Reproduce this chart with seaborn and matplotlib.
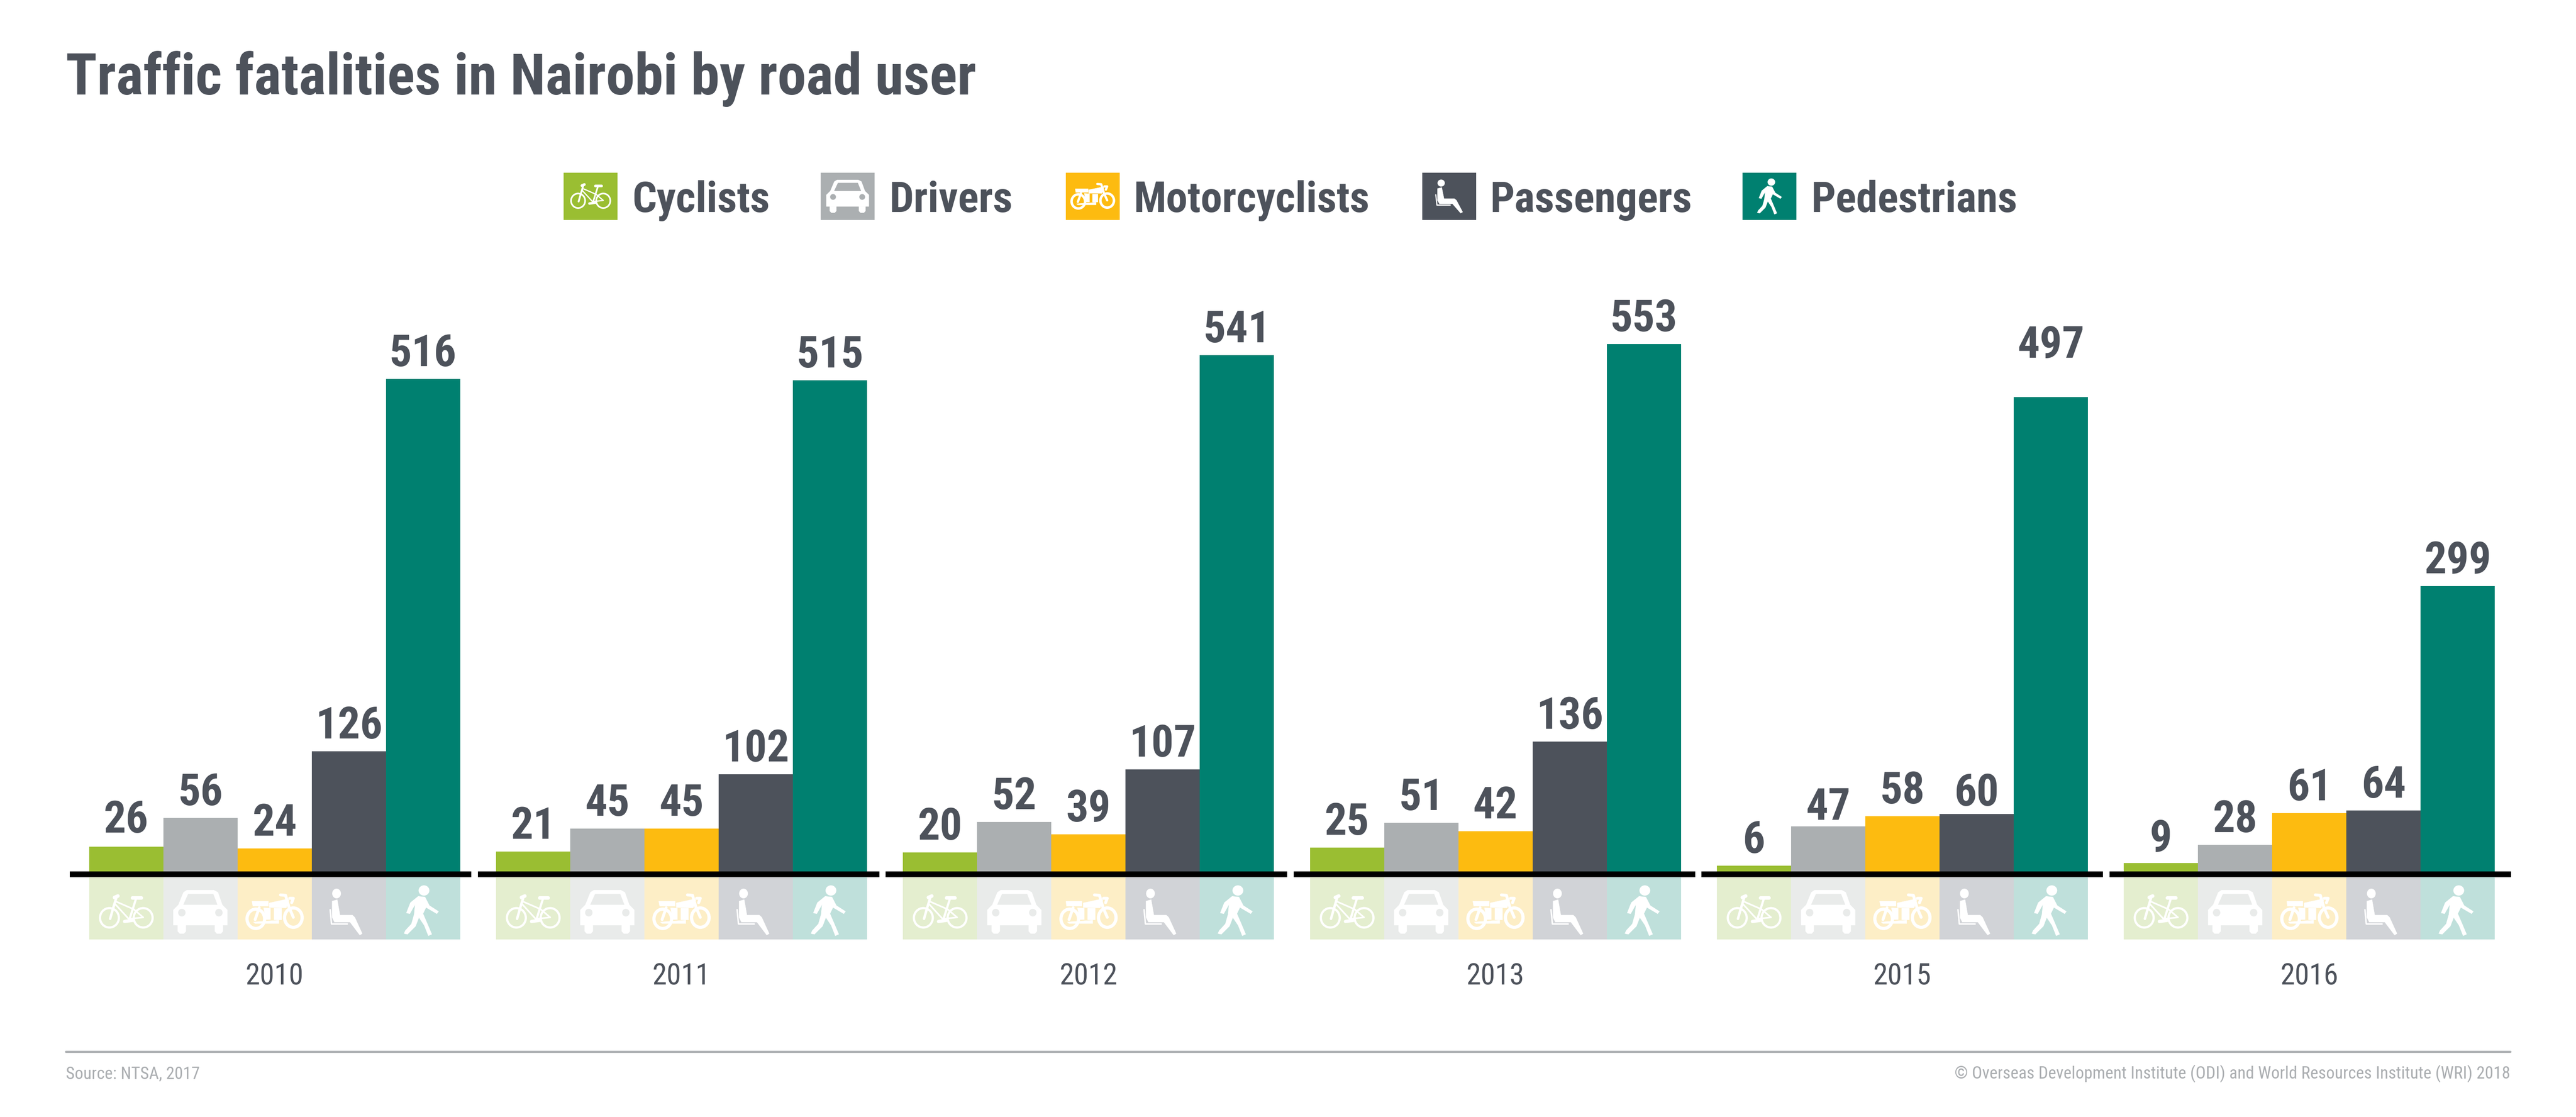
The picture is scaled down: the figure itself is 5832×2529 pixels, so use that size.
import matplotlib
matplotlib.use("Agg")
import matplotlib.pyplot as plt
import matplotlib.patches as mpatches
from matplotlib.lines import Line2D
from matplotlib.transforms import Affine2D
import pandas as pd
import seaborn as sns

# ---------- data ----------
years = ["2010", "2011", "2012", "2013", "2015", "2016"]
road_users = ["Cyclists", "Drivers", "Motorcyclists", "Passengers", "Pedestrians"]
cyclists = [26, 21, 20, 25, 6, 9]
drivers = [56, 45, 52, 51, 47, 28]
motorcyclists = [24, 45, 39, 42, 58, 61]
passengers = [126, 102, 107, 136, 60, 64]
pedestrians = [516, 515, 541, 553, 497, 299]

title = "Traffic fatalities in Nairobi by road user"
source_text = "Source: NTSA, 2017"
credit_text = "© Overseas Development Institute (ODI) and World Resources Institute (WRI) 2018"

# ---------- style ----------
W, H = 5833, 2529
DPI = 300
INK = "#4D525B"
FOOT = "#ABAEB1"
colors = ["#9ABE32", "#ABAFB1", "#FDBB10", "#4D525B", "#008070"]
tints = ["#E4EECF", "#E9EBEA", "#FDEEC6", "#D1D3D7", "#BFE0DB"]
sns.set_theme(style="white")
plt.rcParams["font.family"] = ["Roboto Condensed", "Liberation Sans", "DejaVu Sans"]

fig = plt.figure(figsize=(W / DPI, H / DPI), dpi=DPI, facecolor="white")
# pixel coordinates measured from the top-left corner of the picture
PX = Affine2D().scale(1 / W, -1 / H).translate(0, 1) + fig.transFigure

BASE_Y = 1973
UNIT = 2.16           # picture pixels per fatality
TOP_Y = 500
ax_left, ax_right = 161, 5689
ax = fig.add_axes([ax_left / W, 1 - BASE_Y / H, (ax_right - ax_left) / W, (BASE_Y - TOP_Y) / H])

df = pd.DataFrame({"Year": years, "Cyclists": cyclists, "Drivers": drivers,
                   "Motorcyclists": motorcyclists, "Passengers": passengers,
                   "Pedestrians": pedestrians}).melt(id_vars="Year", var_name="Road user", value_name="Fatalities")
sns.barplot(data=df, x="Year", y="Fatalities", hue="Road user", hue_order=road_users,
            order=years, palette=colors, width=0.912, gap=0, legend=False, ax=ax,
            saturation=1, linewidth=0, errorbar=None)
ax.set_xlim(-0.5, 5.5)
ax.set_ylim(0, (BASE_Y - TOP_Y) / UNIT)
ax.set_xlabel("")
ax.set_ylabel("")
ax.set_yticks([])
ax.tick_params(axis="x", length=0, pad=206 * 72 / DPI, labelsize=16, labelcolor=INK)
for s in ax.spines.values():
    s.set_visible(False)
ax.patch.set_alpha(0)


# ---------- icons: outlines traced in a box given by (x0, x1, y0, y1) ----------
def norm(pts, box):
    x0, x1, y0, y1 = box
    return [((x - x0) / (x1 - x0), (y - y0) / (y1 - y0)) for x, y in pts]


def draw_icon(kind, x0, y0, w, h, bg, fg="white"):
    tr = Affine2D().scale(w, h).translate(x0, y0) + PX
    lw = w / 126 * 1.5

    def poly(pts, box, color=fg):
        fig.add_artist(mpatches.Polygon(norm(pts, box), closed=True, fc=color, ec=color, lw=0.2,
                                        transform=tr))

    def ell(cx, cy, rx, ry, box, color=fg, ring=None):
        a, b, c, d = box
        fig.add_artist(mpatches.Ellipse(((cx - a) / (b - a), (cy - c) / (d - c)),
                                        2 * rx / (b - a), 2 * ry / (d - c),
                                        fc=color if ring is None else "none",
                                        ec=fg if ring is not None else "none",
                                        lw=ring or 0, transform=tr))

    def line(pts, box, width=lw, color=fg):
        xs, ys = zip(*norm(pts, box))
        fig.add_artist(Line2D(xs, ys, color=color, lw=width, transform=tr,
                              solid_capstyle="round", solid_joinstyle="round"))

    if kind == "Cyclists":
        b = (160, 325, 530, 755)
        ell(193, 683, 28, 66, b, ring=lw * 0.8)
        ell(293, 683, 28, 66, b, ring=lw * 0.8)
        line([(215, 535), (205, 610), (195, 690)], b, lw * 0.9)
        line([(215, 575), (265, 625)], b, lw * 0.6)
        line([(210, 590), (250, 690)], b, lw * 0.6)
        line([(272, 552), (253, 690)], b, lw * 0.8)
        line([(253, 690), (293, 680)], b, lw * 0.6)
        line([(265, 625), (293, 680)], b, lw * 0.6)
        line([(262, 548), (287, 548)], b, lw * 1.3)
        line([(208, 545), (218, 535)], b, lw * 1.3)
        line([(238, 708), (262, 700)], b, lw * 1.2)
    elif kind == "Drivers":
        b = (380, 540, 495, 790)
        poly([(380, 733), (380, 630), (395, 595), (410, 510), (420, 495), (500, 495), (512, 510),
              (525, 595), (540, 630), (540, 733)], b)
        poly([(424, 522), (498, 522), (510, 593), (410, 593)], b, color=bg)
        ell(405, 648, 11, 26, b, color=bg)
        ell(515, 648, 11, 26, b, color=bg)
        for xl, xr in [(393, 417), (503, 527)]:
            poly([(xl, 733), (xr, 733), (xr, 775), (xr - 6, 790), (xl + 6, 790), (xl, 775)], b)
    elif kind == "Motorcyclists":
        b = (590, 765, 525, 760)
        ell(622, 690, 26, 66, b, ring=lw * 1.1)
        ell(733, 682, 26, 66, b, ring=lw * 1.1)
        poly([(610, 570), (658, 570), (658, 603), (612, 603)], b)
        poly([(662, 582), (712, 557), (720, 560), (712, 615), (662, 613)], b)
        poly([(615, 712), (690, 700), (690, 722), (620, 722)], b)
        poly([(645, 615), (665, 618), (665, 695), (652, 695)], b)
        poly([(675, 618), (697, 618), (697, 695), (675, 695)], b)
        line([(695, 527), (710, 530), (720, 610), (733, 680)], b, lw)
        line([(722, 550), (733, 550), (728, 580)], b, lw)
        line([(632, 615), (620, 695)], b, lw)
    elif kind == "Passengers":
        b = (848, 945, 485, 800)
        ell(868, 518, 13, 33, b)
        poly([(855, 570), (870, 560), (878, 665), (915, 665), (922, 680), (944, 790), (937, 800),
              (908, 712), (862, 712), (855, 680)], b)
        line([(849, 628), (853, 725), (900, 725)], b, lw * 0.9)
    else:
        b = (1068, 1170, 462, 805)
        ell(1127, 497, 16, 35, b)
        poly([(1110, 537), (1130, 542), (1143, 600), (1170, 640), (1165, 655), (1133, 612),
              (1124, 655), (1138, 730), (1150, 795), (1140, 805), (1128, 735), (1112, 680),
              (1102, 740), (1078, 795), (1068, 790), (1072, 770), (1090, 725), (1098, 660),
              (1101, 590), (1085, 655), (1075, 650), (1087, 580)], b)


strip_top, strip_bottom = 1986, 2127
# icon width, height and the offset of its centre from the centre of its cell, in picture pixels
icon_sizes = {"Cyclists": (126, 75, 0, 8), "Drivers": (122, 98, 0, 8), "Motorcyclists": (134, 78, 0, 8),
              "Passengers": (74, 105, -6, 8), "Pedestrians": (78, 114, -4, 5)}
# value labels that sit closer to, or further from, their bar: (year index, road user index) -> pixels
label_shift = {(4, 1): -14, (4, 3): -10, (4, 4): 60, (5, 0): -3, (0, 0): 3}

# ---------- value labels, icon strips, baselines ----------
n_years, n_users = len(years), len(road_users)
bars = sorted(ax.patches, key=lambda p: p.get_x())
bars = [b for b in bars if b.get_height() > 0]
to_px = ax.transData + PX.inverted()
values = dict(zip(range(n_users), [cyclists, drivers, motorcyclists, passengers, pedestrians]))
for idx, bar in enumerate(bars):
    group, u = divmod(idx, n_users)
    value = values[u][group]
    cx = bar.get_x() + bar.get_width() / 2
    gap = 29 + label_shift.get((group, u), 0)
    ax.annotate(str(value), (cx, value), xytext=(0, gap * 72 / DPI), textcoords="offset points",
                ha="center", va="baseline", fontsize=24, fontweight="bold", color=INK, annotation_clip=False)
    (xa, _), (xb, _) = to_px.transform([(bar.get_x(), 0), (bar.get_x() + bar.get_width(), 0)])
    fig.add_artist(mpatches.Rectangle((xa, strip_top), xb - xa, strip_bottom - strip_top, fc=tints[u],
                                      ec="none", transform=PX))
    name = road_users[u]
    iw, ih, dx, dy = icon_sizes[name]
    mid_x = (xa + xb) / 2 + dx
    mid_y = (strip_top + strip_bottom) / 2 + dy
    draw_icon(name, mid_x - iw / 2, mid_y - ih / 2, iw, ih, tints[u])

for g in range(n_years):
    fig.add_artist(mpatches.Rectangle((158 + g * 923.6, BASE_Y), 909, 13, fc="black", ec="none", transform=PX))

# ---------- legend ----------
legend_x = [1276, 1858, 2413, 3220, 3945]
legend_text_x = [1432, 2013, 2566, 3373, 4100]
legend_icons = {"Cyclists": (94, 56), "Drivers": (96, 74), "Motorcyclists": (103, 57),
                "Passengers": (62, 76), "Pedestrians": (55, 81)}
for x, tx, name, color in zip(legend_x, legend_text_x, road_users, colors):
    fig.add_artist(mpatches.Rectangle((x, 391), 122, 107, fc=color, ec="none", transform=PX))
    iw, ih = legend_icons[name]
    draw_icon(name, x + 61 - iw / 2, 444.5 - ih / 2, iw, ih, color)
    fig.text(tx, 480, name, transform=PX, fontsize=23.4, fontweight="bold", color=INK, ha="left", va="baseline")

# ---------- title and footer ----------
fig.text(149, 214, title, transform=PX, fontsize=31.3, fontweight="bold", color=INK, ha="left", va="baseline")
fig.add_artist(Line2D([149, 5683], [2381, 2381], color="#B0B3B5", lw=1.2, transform=PX))
fig.text(149, 2442, source_text, transform=PX, fontsize=9.3, color=FOOT, ha="left", va="baseline")
fig.text(5683, 2442, credit_text, transform=PX, fontsize=9.3, color=FOOT, ha="right", va="baseline")

fig.savefig("out.png", dpi=DPI, facecolor="white")
